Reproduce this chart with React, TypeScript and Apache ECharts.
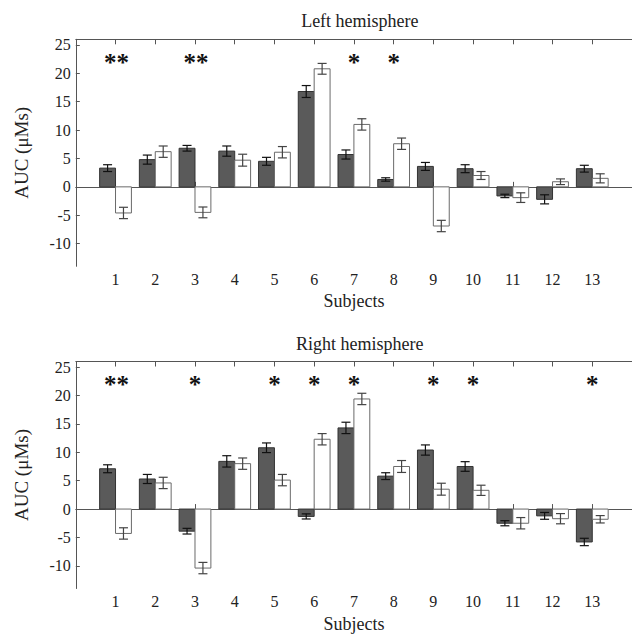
import React, { useEffect, useRef } from "react";
import * as echarts from "echarts";

const subjects = [1, 2, 3, 4, 5, 6, 7, 8, 9, 10, 11, 12, 13];
const yTicks = [-10, -5, 0, 5, 10, 15, 20, 25];

const leftDark = [3.3, 4.8, 6.8, 6.3, 4.5, 16.8, 5.7, 1.3, 3.6, 3.2, -1.6, -2.2, 3.2];
const leftDarkErr = [0.6, 0.8, 0.5, 0.9, 0.7, 1.05, 0.8, 0.3, 0.7, 0.7, 0.3, 0.8, 0.6];
const leftWhite = [-4.6, 6.2, -4.5, 4.7, 6.1, 20.8, 11.0, 7.6, -6.9, 2.0, -1.9, 0.9, 1.5];
const leftWhiteErr = [1.0, 1.0, 0.95, 1.05, 1.0, 0.95, 1.0, 1.0, 1.0, 0.7, 0.85, 0.5, 0.8];
const leftSig = ["**", "", "**", "", "", "", "*", "*", "", "", "", "", ""];

const rightDark = [7.1, 5.3, -3.9, 8.4, 10.8, -1.3, 14.3, 5.8, 10.4, 7.5, -2.5, -1.2, -5.8];
const rightDarkErr = [0.7, 0.8, 0.5, 1.0, 0.85, 0.45, 1.0, 0.6, 0.9, 0.85, 0.45, 0.6, 0.65];
const rightWhite = [-4.3, 4.6, -10.4, 8.0, 5.1, 12.3, 19.4, 7.5, 3.5, 3.3, -2.5, -1.7, -1.8];
const rightWhiteErr = [1.0, 1.0, 1.0, 1.0, 1.0, 1.0, 1.0, 1.05, 1.05, 0.9, 1.0, 0.9, 0.65];
const rightSig = ["**", "", "*", "", "*", "*", "*", "", "*", "*", "", "", "*"];

const SIG_Y = 22.5;
const FONT = "Liberation Serif";
const AXIS_COLOR = "#555";
const TEXT_COLOR = "#222";

function barRenderer(offset: number, fill: string, stroke: string, errColor: string) {
  return (params: any, api: any) => {
    const x = api.value(0);
    const v = api.value(1);
    const e = api.value(2);
    const p0 = api.coord([x + offset - 0.2, 0]);
    const p1 = api.coord([x + offset + 0.2, v]);
    const c = api.coord([x + offset, v]);
    const top = api.coord([x + offset, v + e]);
    const bot = api.coord([x + offset, v - e]);
    const hw = 4.5;
    return {
      type: "group",
      children: [
        {
          type: "rect",
          shape: {
            x: p0[0],
            y: Math.min(p0[1], p1[1]),
            width: p1[0] - p0[0],
            height: Math.abs(p1[1] - p0[1]),
          },
          style: { fill, stroke, lineWidth: 1 },
        },
        {
          type: "line",
          shape: { x1: c[0], y1: top[1], x2: c[0], y2: bot[1] },
          style: { stroke: errColor, lineWidth: 1.2 },
        },
        {
          type: "line",
          shape: { x1: c[0] - hw, y1: top[1], x2: c[0] + hw, y2: top[1] },
          style: { stroke: errColor, lineWidth: 1.2 },
        },
        {
          type: "line",
          shape: { x1: c[0] - hw, y1: bot[1], x2: c[0] + hw, y2: bot[1] },
          style: { stroke: errColor, lineWidth: 1.2 },
        },
      ],
    };
  };
}

function sigRenderer(params: any, api: any) {
  const x = api.value(0);
  const p = api.coord([x, SIG_Y]);
  const n = api.value(2);
  return {
    type: "text",
    x: p[0] + (n === 2 ? 1 : 0),
    y: p[1] + 3,
    style: {
      text: n === 2 ? "**" : "*",
      fill: "#111",
      font: `bold 25px ${FONT}`,
      align: "center",
      verticalAlign: "middle",
    },
  };
}

function makeData(vals: number[], errs: number[]) {
  return subjects.map((s, i) => [s, vals[i], errs[i]]);
}

function sigData(sig: string[]) {
  return subjects
    .map((s, i) => [s, SIG_Y, sig[i].length])
    .filter((d) => d[2] > 0);
}

function xAxes(gridIndex: number) {
  const tick = {
    show: true,
    inside: true,
    length: 5,
    customValues: subjects,
    lineStyle: { color: AXIS_COLOR },
  };
  return [
    {
      type: "value",
      gridIndex,
      min: 0,
      max: 14,
      position: "bottom",
      name: "Subjects",
      nameLocation: "middle",
      nameGap: 26,
      nameTextStyle: { fontFamily: FONT, fontSize: 18, color: TEXT_COLOR },
      axisLine: { show: true, lineStyle: { color: AXIS_COLOR } },
      axisTick: tick,
      axisLabel: {
        customValues: subjects,
        fontFamily: FONT,
        fontSize: 16,
        color: TEXT_COLOR,
        margin: 5,
      },
      splitLine: { show: false },
    },
    {
      type: "value",
      gridIndex,
      min: 0,
      max: 14,
      position: "top",
      axisLine: { show: true, lineStyle: { color: AXIS_COLOR } },
      axisTick: tick,
      axisLabel: { show: false },
      splitLine: { show: false },
    },
  ];
}

function yAxis(gridIndex: number) {
  return {
    type: "value",
    gridIndex,
    min: -14,
    max: 26,
    name: "AUC (μMs)",
    nameLocation: "middle",
    nameGap: 45,
    nameTextStyle: { fontFamily: FONT, fontSize: 19, color: TEXT_COLOR },
    axisLine: { show: true, lineStyle: { color: AXIS_COLOR } },
    axisTick: {
      show: true,
      inside: true,
      length: 4,
      customValues: yTicks,
      lineStyle: { color: AXIS_COLOR },
    },
    axisLabel: {
      customValues: yTicks,
      fontFamily: FONT,
      fontSize: 16,
      color: TEXT_COLOR,
      margin: 5,
    },
    splitLine: { show: false },
  };
}

function panelSeries(
  xIdx: number,
  yIdx: number,
  dark: number[],
  darkErr: number[],
  white: number[],
  whiteErr: number[],
  sig: string[]
) {
  return [
    {
      type: "custom",
      xAxisIndex: xIdx,
      yAxisIndex: yIdx,
      renderItem: barRenderer(-0.2, "#5a5a5a", "#333", "#111"),
      data: makeData(dark, darkErr),
      clip: false,
    },
    {
      type: "custom",
      xAxisIndex: xIdx,
      yAxisIndex: yIdx,
      renderItem: barRenderer(0.2, "#ffffff", "#6a6a6a", "#444"),
      data: makeData(white, whiteErr),
      clip: false,
    },
    {
      type: "custom",
      xAxisIndex: xIdx,
      yAxisIndex: yIdx,
      renderItem: sigRenderer,
      data: sigData(sig),
      clip: false,
    },
  ];
}

export default function App() {
  const ref = useRef<HTMLDivElement>(null);
  useEffect(() => {
    if (!ref.current) return;
    const chart = echarts.init(ref.current, null, { renderer: "svg" });
    const gridLeft = 75.8;
    const gridWidth = 568.1;
    chart.setOption({
      animation: false,
      backgroundColor: "#ffffff",
      grid: [
        { left: gridLeft, top: 39.3, width: gridWidth, height: 227 },
        { left: gridLeft, top: 361.5, width: gridWidth, height: 227 },
      ],
      xAxis: [...xAxes(0), ...xAxes(1)],
      yAxis: [yAxis(0), yAxis(1)],
      graphic: [
        {
          type: "text",
          x: gridLeft + gridWidth / 2,
          y: 20.5,
          style: {
            text: "Left hemisphere",
            font: `18px ${FONT}`,
            fill: TEXT_COLOR,
            align: "center",
            verticalAlign: "middle",
          },
        },
        {
          type: "text",
          x: gridLeft + gridWidth / 2,
          y: 343.5,
          style: {
            text: "Right hemisphere",
            font: `18px ${FONT}`,
            fill: TEXT_COLOR,
            align: "center",
            verticalAlign: "middle",
          },
        },
      ],
      series: [
        ...panelSeries(0, 0, leftDark, leftDarkErr, leftWhite, leftWhiteErr, leftSig),
        ...panelSeries(2, 1, rightDark, rightDarkErr, rightWhite, rightWhiteErr, rightSig),
      ],
    });
    return () => chart.dispose();
  }, []);
  return (
    <div
      ref={ref}
      style={{
        position: "absolute",
        left: 0,
        top: 0,
        width: 632,
        height: 635,
        overflow: "hidden",
      }}
    />
  );
}
